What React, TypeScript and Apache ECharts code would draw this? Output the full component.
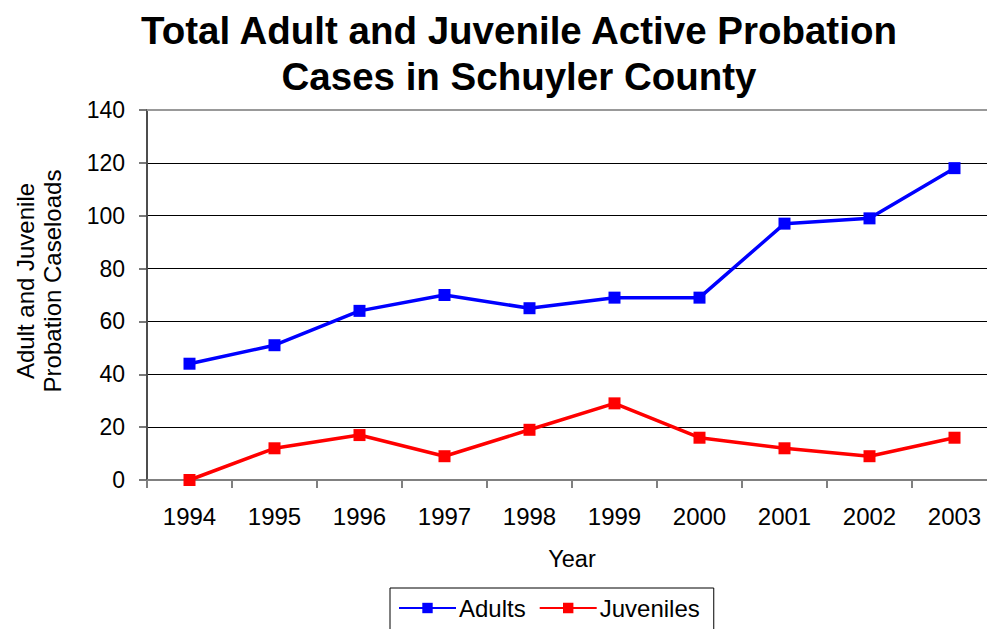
import React, { useEffect, useRef } from "react";
import * as echarts from "echarts";

const years = ["1994", "1995", "1996", "1997", "1998", "1999", "2000", "2001", "2002", "2003"];
const adults = [44, 51, 64, 70, 65, 69, 69, 97, 99, 118];
const juveniles = [0, 12, 17, 9, 19, 29, 16, 12, 9, 16];

const FONT = "Liberation Sans, Arial, sans-serif";

export default function App() {
  const ref = useRef<HTMLDivElement>(null);
  useEffect(() => {
    if (!ref.current) return;
    const chart = echarts.init(ref.current, null, { renderer: "svg" });
    chart.setOption({
      animation: false,
      backgroundColor: "#ffffff",
      textStyle: { fontFamily: FONT },
      title: {
        text: "Total Adult and Juvenile Active Probation\nCases in Schuyler County",
        left: 514,
        textAlign: "center",
        top: 2,
        textStyle: { fontSize: 38.5, fontWeight: "bold", color: "#000", lineHeight: 46, fontFamily: FONT },
      },
      grid: { left: 147, right: -10, top: 110, bottom: 149, containLabel: false, outerBoundsMode: "none" },
      legend: {
        left: 390,
        top: 588,
        itemWidth: 57,
        itemHeight: 13,
        itemGap: 13,
        borderColor: "#000",
        borderWidth: 1,
        padding: [8, 14, 22, 8],
        textStyle: { fontSize: 24, color: "#000", fontFamily: FONT, padding: [0, 0, 0, -2] },
        data: ["Adults", "Juveniles"],
      },
      xAxis: [
        {
          type: "category",
          data: years,
          boundaryGap: true,
          name: "Year",
          nameLocation: "middle",
          nameGap: 67,
          nameTextStyle: { fontSize: 23.5, color: "#000", fontFamily: FONT },
          axisLine: { lineStyle: { color: "#808080", width: 2 } },
          axisTick: { show: true, length: 8, inside: false, lineStyle: { color: "#808080", width: 2 } },
          axisLabel: { fontSize: 24, color: "#000", margin: 24, fontFamily: FONT },
          splitLine: { show: false },
        },
        {
          type: "category",
          data: years,
          position: "top",
          axisLine: { show: true, lineStyle: { color: "#999999", width: 2 } },
          axisTick: { show: false },
          axisLabel: { show: false },
          splitLine: { show: false },
        },
      ],
      yAxis: {
        type: "value",
        min: 0,
        max: 140,
        interval: 20,
        name: "Adult and Juvenile\nProbation Caseloads",
        nameLocation: "middle",
        nameGap: 81,
        nameRotate: 90,
        nameTextStyle: { fontSize: 24, color: "#000", lineHeight: 27, fontFamily: FONT, padding: [0, 0, 0, 28] },
        axisLine: { show: true, lineStyle: { color: "#4d4d4d", width: 2 } },
        axisTick: { show: true, length: 8, inside: false, lineStyle: { color: "#4d4d4d", width: 1.5 } },
        axisLabel: { fontSize: 23, color: "#000", margin: 22, fontFamily: FONT },
        splitLine: { show: true, lineStyle: { color: "#000", width: 1 } },
      },
      series: [
        {
          name: "Adults",
          type: "line",
          data: adults,
          symbol: "rect",
          symbolSize: 12,
          lineStyle: { color: "#0000ff", width: 3.5 },
          itemStyle: { color: "#0000ff" },
        },
        {
          name: "Juveniles",
          type: "line",
          data: juveniles,
          symbol: "rect",
          symbolSize: 12,
          lineStyle: { color: "#ff0000", width: 3.5 },
          itemStyle: { color: "#ff0000" },
        },
      ],
    });
    return () => chart.dispose();
  }, []);
  return <div ref={ref} style={{ width: 987, height: 629, position: "fixed", left: 0, top: 0 }} />;
}
